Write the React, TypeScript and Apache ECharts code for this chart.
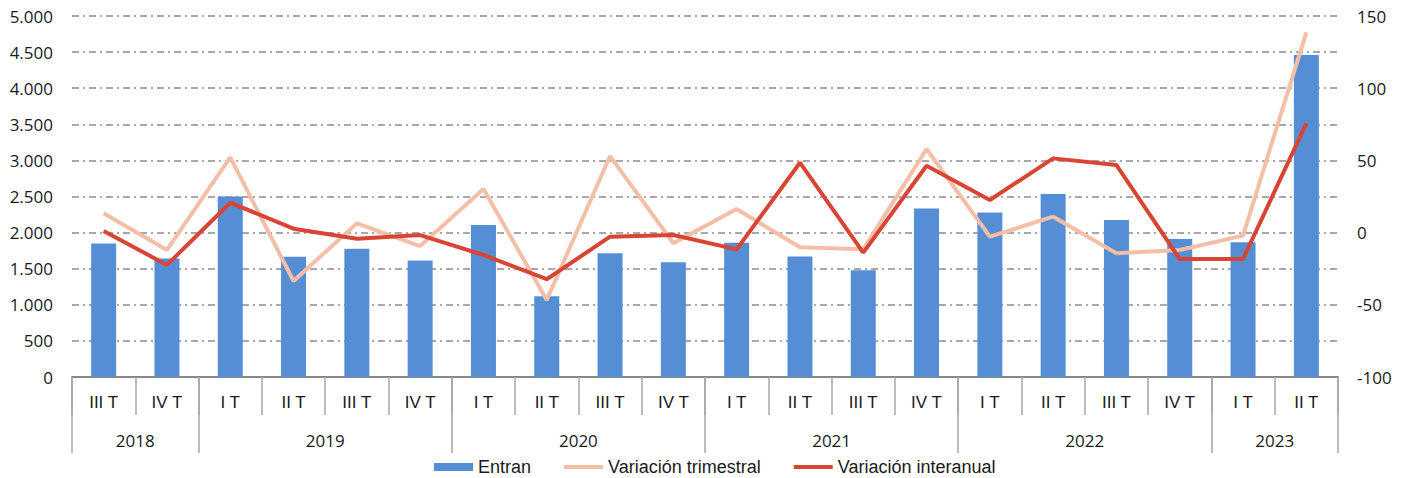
import React, { useEffect, useRef } from "react";
import * as echarts from "echarts";

const quarters = ["III T", "IV T", "I T", "II T", "III T", "IV T", "I T", "II T", "III T", "IV T", "I T", "II T", "III T", "IV T", "I T", "II T", "III T", "IV T", "I T", "II T"];
const years = ["2018", "2019", "2020", "2021", "2022", "2023"];
const yearBoundaries = [0, 2, 6, 10, 14, 18, 20];
const yearCenters = [1, 4, 8, 12, 16, 19];
const entran = [1850, 1640, 2500, 1665, 1775, 1615, 2105, 1120, 1715, 1590, 1860, 1670, 1480, 2335, 2280, 2535, 2175, 1910, 1865, 4460];
const variacionTrimestral = [13.4, -12, 52.1, -33.5, 6.4, -9.3, 30.2, -46.7, 53, -7.4, 16.3, -10.2, -11.6, 57.9, -2.8, 11, -14.3, -12, -2.1, 138.7];
const variacionInteranual = [1.1, -22.4, 20.7, 2.7, -4.2, -1.7, -15.5, -32.3, -2.8, -1.7, -11.6, 48.4, -13.9, 46.3, 22.6, 51.4, 46.8, -18.3, -18.3, 75.7];

const fmtThousands = (v: number) => String(v).replace(/\B(?=(\d{3})+(?!\d))/g, ".");

export default function App() {
  const ref = useRef<HTMLDivElement>(null);
  useEffect(() => {
    document.body.style.margin = "0";
    const chart = echarts.init(ref.current!, null, { renderer: "svg" });
    const numFont = { fontFamily: "Open Sans", fontSize: 17, color: "#1a1a1a" };
    const lineIcon = "path://M0,0H39V4H0Z";
    chart.setOption({
      animation: false,
      backgroundColor: "#ffffff",
      grid: { left: 72, right: 69, top: 16, bottom: 101 },
      legend: {
        left: 429,
        top: 453,
        itemWidth: 39,
        itemHeight: 8,
        itemGap: 33,
        textStyle: { fontFamily: "Liberation Sans", fontSize: 18, color: "#1a1a1a" },
        data: [
          { name: "Entran", icon: "rect" },
          { name: "Variación trimestral", icon: lineIcon },
          { name: "Variación interanual", icon: lineIcon },
        ],
      },
      xAxis: [
        {
          type: "category",
          data: quarters,
          position: "bottom",
          axisLine: { onZero: false, lineStyle: { color: "#888888", width: 2 } },
          axisTick: { show: true, interval: 0, length: 38, lineStyle: { color: "#a6a6a6", width: 1.5 } },
          axisLabel: { interval: 0, margin: 17, fontFamily: "Liberation Sans", fontSize: 17, color: "#1a1a1a" },
          splitLine: { show: false },
        },
        {
          type: "value",
          min: 0,
          max: 20,
          position: "bottom",
          axisLine: { show: false, onZero: false },
          axisTick: { show: true, customValues: yearBoundaries, length: 76, lineStyle: { color: "#a6a6a6", width: 1.5 } },
          axisLabel: {
            customValues: yearCenters,
            margin: 55,
            formatter: (v: number) => years[yearCenters.indexOf(v)] ?? "",
            fontFamily: "Open Sans",
            fontSize: 17,
            color: "#1a1a1a",
          },
          splitLine: { show: false },
        },
      ],
      yAxis: [
        {
          type: "value",
          min: 0,
          max: 5000,
          interval: 500,
          axisLine: { show: false },
          axisTick: { show: false },
          axisLabel: { ...numFont, margin: 19, formatter: (v: number) => fmtThousands(v) },
          splitLine: { show: true, lineStyle: { color: "#8c8c8c", width: 1.5, type: [7, 4, 2, 4] } },
        },
        {
          type: "value",
          min: -100,
          max: 150,
          interval: 50,
          position: "right",
          axisLine: { show: false },
          axisTick: { show: false },
          axisLabel: { ...numFont, margin: 19, align: "left" },
          splitLine: { show: false },
        },
      ],
      series: [
        {
          name: "Entran",
          type: "bar",
          data: entran,
          barWidth: 25,
          itemStyle: { color: "#558ed5" },
          xAxisIndex: 0,
          yAxisIndex: 0,
        },
        {
          name: "Variación trimestral",
          type: "line",
          data: variacionTrimestral,
          symbol: "none",
          lineStyle: { color: "#f4bfa6", width: 4 },
          itemStyle: { color: "#f4bfa6" },
          xAxisIndex: 0,
          yAxisIndex: 1,
        },
        {
          name: "Variación interanual",
          type: "line",
          data: variacionInteranual,
          symbol: "none",
          lineStyle: { color: "#d94535", width: 4 },
          itemStyle: { color: "#d94535" },
          xAxisIndex: 0,
          yAxisIndex: 1,
        },
      ],
    });
    return () => chart.dispose();
  }, []);
  return <div ref={ref} style={{ width: 1407, height: 478 }} />;
}
